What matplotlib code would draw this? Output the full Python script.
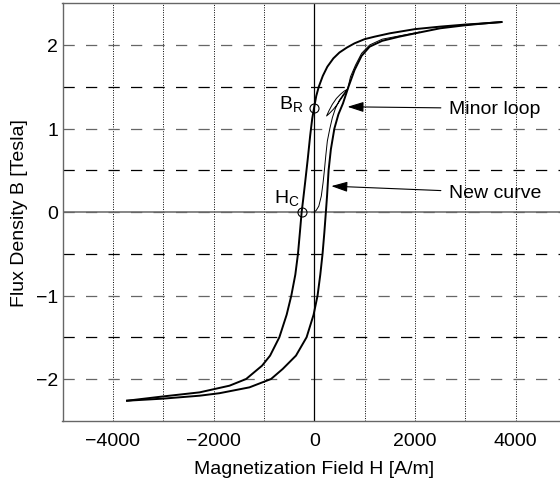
import numpy as np
import matplotlib
matplotlib.use('Agg')
import matplotlib.pyplot as plt
from matplotlib.ticker import MultipleLocator, FixedLocator

plt.rcParams['font.family'] = ['Liberation Sans', 'DejaVu Sans']
plt.rcParams['font.size'] = 14

# descending branch of the major loop (H in A/m, B in T)
desc_h = [3718, 3400, 3000, 2500, 2000, 1500, 1200, 1000, 800, 650, 500, 380, 260,
          170, 90, 40, 0, -40, -80, -130, -180, -220, -250, -283, -323, -376, -455,
          -548, -693, -877, -1036, -1353, -1683, -2277, -3020, -3718]
desc_b = [2.275, 2.26, 2.245, 2.22, 2.19, 2.14, 2.10, 2.07, 2.02, 1.97, 1.91, 1.84, 1.74,
          1.63, 1.50, 1.39, 1.26, 1.12, 0.92, 0.63, 0.36, 0.15, 0.0, -0.23, -0.5, -0.75, -1.0,
          -1.23, -1.5, -1.72, -1.84, -2.0, -2.08, -2.16, -2.21, -2.26]

# ascending branch of the major loop
asc_h = [-3718, -3000, -2277, -1881, -1287, -858, -627, -363, -152, -13, 66, 120, 165,
         200, 231, 255, 285, 330, 400, 480, 570, 680, 800, 940, 1100, 1350, 1690,
         2090, 2500, 2980, 3400, 3718]
asc_b = [-2.26, -2.235, -2.2, -2.17, -2.1, -2.0, -1.88, -1.72, -1.5, -1.23, -1.0, -0.75, -0.5,
         -0.25, 0.0, 0.2, 0.5, 0.75, 1.0, 1.17, 1.3, 1.5, 1.7, 1.87, 1.98, 2.05, 2.1,
         2.15, 2.2, 2.235, 2.26, 2.275]

# initial magnetization curve, running round the minor loop on the way up
new_h = [0, 40, 90, 140, 175, 200, 230, 260, 310, 360, 420, 500, 580, 662,
         600, 520, 440, 360, 290, 245, 300, 380, 460, 540, 610, 662,
         720, 820, 940, 1100, 1350, 1700, 2090]
new_b = [0, 0.02, 0.07, 0.19, 0.35, 0.49, 0.68, 0.85, 1.0, 1.13, 1.24, 1.34, 1.41, 1.47,
         1.45, 1.41, 1.36, 1.29, 1.21, 1.15, 1.18, 1.23, 1.29, 1.36, 1.42, 1.47,
         1.62, 1.76, 1.9, 2.0, 2.07, 2.11, 2.155]

# remanence and coercivity points
br_point = (0, 1.25)
hc_point = (-250, 0)

fig = plt.figure(figsize=(5.6, 4.85), dpi=100)
ax = fig.add_axes([62.5 / 560, 63.25 / 485, 503.5 / 560, 417.5 / 485])

ax.set_xlim(-5000, 5000)
ax.set_ylim(-2.5, 2.5)
ax.xaxis.set_major_locator(MultipleLocator(2000))
ax.xaxis.set_minor_locator(FixedLocator([-3000, -1000, 1000, 3000]))
ax.yaxis.set_major_locator(MultipleLocator(1))
ax.yaxis.set_minor_locator(FixedLocator([-1.5, -0.5, 0.5, 1.5]))

ax.grid(True, axis='y', which='major', color='#666666', lw=0.9, ls=(0, (9, 9)))
ax.grid(True, axis='y', which='minor', color='black', lw=0.9, ls=(0, (9, 9)))
ax.grid(True, axis='x', which='both', color='black', lw=0.7, ls=(0, (1, 1.5)))
ax.set_axisbelow(True)

ax.axhline(0, color='#666666', lw=1.1, zorder=1.5)
ax.axvline(0, color='black', lw=0.9, zorder=1.5)

ax.tick_params(which='both', length=0)
ax.tick_params(axis='y', pad=3)
ax.tick_params(axis='x', pad=8)

for side in ['left', 'top', 'bottom']:
    ax.spines[side].set_color('#666666')
    ax.spines[side].set_linewidth(1.0)
ax.spines['right'].set_visible(False)

ax.plot(desc_h, desc_b, color='black', lw=1.4, zorder=3)
ax.plot(asc_h, asc_b, color='black', lw=1.4, zorder=3)
ax.plot(new_h, new_b, color='black', lw=0.7, zorder=3)

ax.plot(*br_point, marker='o', ms=6.5, mfc='none', mec='black', mew=0.8, zorder=4)
ax.plot(*hc_point, marker='o', ms=6.5, mfc='none', mec='black', mew=0.8, zorder=4)

ax.text(-220, 1.31, r'$\mathregular{B_R}$', ha='right', va='center', fontsize=14)
ax.text(-290, 0.18, r'$\mathregular{H_C}$', ha='right', va='center', fontsize=14)

arrow = dict(arrowstyle='-|>,head_length=0.7,head_width=0.22', color='black',
             lw=0.8, shrinkA=4, shrinkB=0)
ax.annotate('Minor loop', xy=(660, 1.26), xytext=(2680, 1.24),
            ha='left', va='center', arrowprops=arrow)
ax.annotate('New curve', xy=(338, 0.31), xytext=(2680, 0.23),
            ha='left', va='center', arrowprops=arrow)

ax.set_xlabel('Magnetization Field H [A/m]', labelpad=8)
ax.set_ylabel('Flux Density B [Tesla]', labelpad=6)

fig.savefig('out.png', dpi=100)
